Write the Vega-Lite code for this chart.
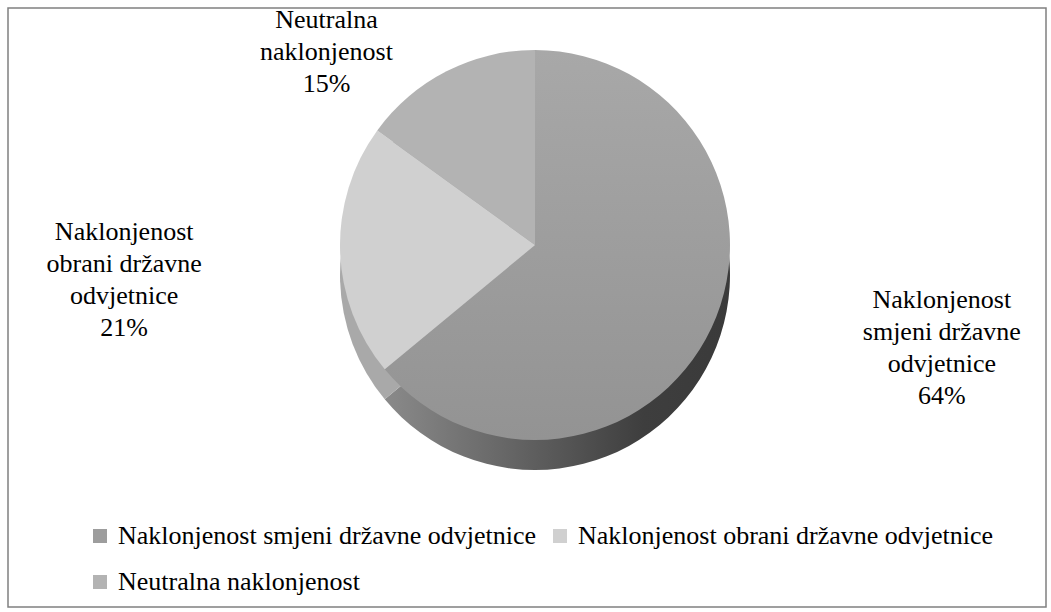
{
  "$schema": "https://vega.github.io/schema/vega-lite/v6.json",
  "width": 1038,
  "height": 599,
  "autosize": "none",
  "padding": {"left": 8, "top": 8, "right": 5, "bottom": 5},
  "background": "white",
  "config": {
    "view": {"stroke": null},
    "font": "Liberation Serif"
  },
  "datasets": {
    "slices": [
      {"cat": "Naklonjenost smjeni državne odvjetnice", "value": 64, "order": 1, "label": ["Naklonjenost", "smjeni državne", "odvjetnice", "64%"]},
      {"cat": "Naklonjenost obrani državne odvjetnice", "value": 21, "order": 2, "label": ["Naklonjenost", "obrani državne", "odvjetnice", "21%"]},
      {"cat": "Neutralna naklonjenost", "value": 15, "order": 3, "label": ["Neutralna", "naklonjenost", "15%"]}
    ],
    "frame": [{"name": "chart area"}]
  },
  "layer": [
    {
      "data": {"name": "frame"},
      "mark": {"type": "rect", "filled": false, "stroke": "#808080", "strokeWidth": 1.5},
      "encoding": {}
    },
    {
      "data": {"name": "slices"},
      "mark": {"type": "arc", "x": {"expr": "width/2 + 8"}, "y": {"expr": "height/2 - 32.5"}, "outerRadius": 195, "stroke": null},
      "encoding": {
        "theta": {"field": "value", "type": "quantitative", "stack": true},
        "order": {"field": "order", "type": "quantitative", "sort": "ascending"},
        "fill": {
          "condition": {
            "test": "datum.order === 1",
            "value": {"gradient": "linear", "x1": 0, "y1": 0, "x2": 1, "y2": 0, "stops": [{"offset": 0, "color": "#8a8a8a"}, {"offset": 0.75, "color": "#3e3e3e"}, {"offset": 1, "color": "#3a3a3a"}]}
          },
          "value": "#a9a9a9"
        }
      }
    },
    {
      "data": {"name": "slices"},
      "mark": {"type": "arc", "x": {"expr": "width/2 + 8"}, "y": {"expr": "height/2 - 62.5"}, "outerRadius": 195, "stroke": null},
      "encoding": {
        "theta": {"field": "value", "type": "quantitative", "stack": true},
        "order": {"field": "order", "type": "quantitative", "sort": "ascending"},
        "fill": {
          "condition": {
            "test": "datum.order === 1",
            "value": {"gradient": "linear", "x1": 0, "y1": 0, "x2": 0, "y2": 1, "stops": [{"offset": 0, "color": "#a8a8a8"}, {"offset": 1, "color": "#939393"}]}
          },
          "field": "cat",
          "type": "nominal",
          "sort": ["Naklonjenost smjeni državne odvjetnice", "Naklonjenost obrani državne odvjetnice", "Neutralna naklonjenost"],
          "scale": {
            "domain": ["Naklonjenost smjeni državne odvjetnice", "Naklonjenost obrani državne odvjetnice", "Neutralna naklonjenost"],
            "range": ["#9d9d9d", "#d0d0d0", "#b3b3b3"]
          },
          "legend": {
            "orient": "none",
            "legendX": 79,
            "legendY": 515,
            "direction": "horizontal",
            "columns": 2,
            "title": null,
            "padding": 0,
            "symbolType": "square",
            "symbolSize": 196,
            "symbolStrokeWidth": 0,
            "symbolOpacity": 1,
            "labelFont": "Liberation Serif",
            "labelFontSize": 26,
            "labelColor": "black",
            "labelOffset": 5,
            "labelLimit": 0,
            "columnPadding": 10,
            "rowPadding": 20
          }
        }
      }
    },
    {
      "data": {"name": "slices"},
      "mark": {"type": "text", "x": {"expr": "width/2 + 8"}, "y": {"expr": "height/2 - 62.5"}, "radius": 380, "dx": 63, "dy": -107, "fontSize": 26, "lineHeight": 32, "align": "center", "baseline": "middle", "color": "black", "font": "Liberation Serif"},
      "encoding": {
        "theta": {"field": "value", "type": "quantitative", "stack": true},
        "order": {"field": "order", "type": "quantitative", "sort": "ascending"},
        "text": {"condition": {"test": "datum.order === 1", "field": "label"}, "value": ""}
      }
    },
    {
      "data": {"name": "slices"},
      "mark": {"type": "text", "x": {"expr": "width/2 + 8"}, "y": {"expr": "height/2 - 62.5"}, "radius": 380, "dx": -31, "dy": -25, "fontSize": 26, "lineHeight": 32, "align": "center", "baseline": "middle", "color": "black", "font": "Liberation Serif"},
      "encoding": {
        "theta": {"field": "value", "type": "quantitative", "stack": true},
        "order": {"field": "order", "type": "quantitative", "sort": "ascending"},
        "text": {"condition": {"test": "datum.order === 2", "field": "label"}, "value": ""}
      }
    },
    {
      "data": {"name": "slices"},
      "mark": {"type": "text", "x": {"expr": "width/2 + 8"}, "y": {"expr": "height/2 - 62.5"}, "radius": 250, "dx": -95, "dy": -2, "fontSize": 26, "lineHeight": 32, "align": "center", "baseline": "middle", "color": "black", "font": "Liberation Serif"},
      "encoding": {
        "theta": {"field": "value", "type": "quantitative", "stack": true},
        "order": {"field": "order", "type": "quantitative", "sort": "ascending"},
        "text": {"condition": {"test": "datum.order === 3", "field": "label"}, "value": ""}
      }
    }
  ]
}
